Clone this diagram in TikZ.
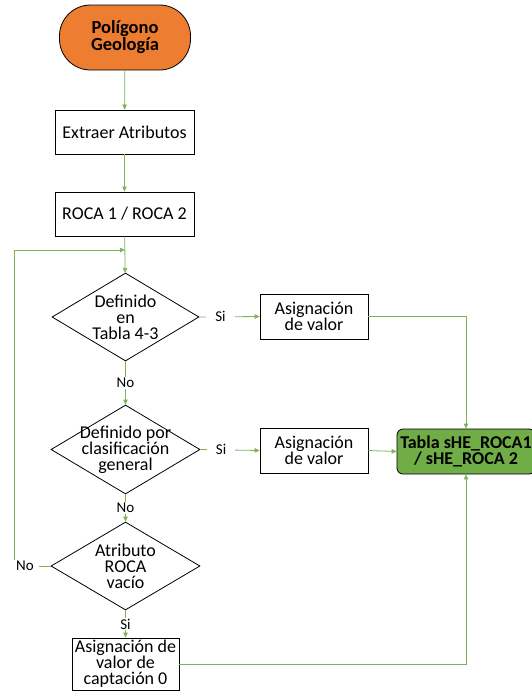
\documentclass[tikz,border=0pt]{standalone}
\usepackage{fontspec}
\setmainfont{Carlito}
\usetikzlibrary{shapes.geometric,arrows.meta}
\definecolor{orng}{HTML}{ED7D31}
\definecolor{grn}{HTML}{70AD47}
\definecolor{conn}{HTML}{7FB35A}
\begin{document}
\begin{tikzpicture}[x=1pt,y=-1pt,
  every node/.style={font=\fontsize{18}{16}\selectfont, align=center},
  box/.style={draw=black, line width=0.8pt, fill=white, inner sep=1pt},
  dec/.style={draw=black, line width=0.8pt, diamond, inner sep=0pt},
  dectext/.style={font=\fontsize{18}{16}\selectfont, align=center},
  con/.style={draw=conn, line width=0.8pt, -{Triangle[length=5pt,width=4.5pt]}},
  lab/.style={fill=white, inner xsep=5pt, inner ysep=1pt, font=\fontsize{15}{16}\selectfont}]
\useasboundingbox (0,0) rectangle (532,691);
\node[draw=black, line width=0.8pt, fill=orng, rounded corners=31pt, minimum width=131pt, minimum height=65pt, font=\bfseries\fontsize{18.5}{16}\selectfont] (start) at (125,37.5) {Polígono\\Geología};
\node[box, minimum width=139pt, minimum height=44pt] (extr) at (124.5,132) {Extraer Atributos};
\node[box, minimum width=139pt, minimum height=44pt] (roca) at (124.5,214) {ROCA 1 / ROCA 2};
\node[dec, minimum width=147pt, minimum height=88pt, label={[dectext]center:{Definido\\en\\Tabla 4-3}}] (d1) at (125.5,317) {};
\node[dec, minimum width=149pt, minimum height=89pt, label={[dectext]center:{Definido por\\clasificación\\general}}] (d2) at (125.5,449.5) {};
\node[dec, minimum width=149pt, minimum height=88pt, label={[dectext]center:{Atributo\\ROCA\\vacío}}] (d3) at (125.5,566) {};
\node[box, minimum width=108pt, minimum height=45pt] (a1) at (314,316.5) {Asignación\\de valor};
\node[box, minimum width=108pt, minimum height=45pt] (a2) at (314,450.5) {Asignación\\de valor};
\node[draw=black, line width=0.8pt, fill=grn, rounded corners=6pt, minimum width=138pt, minimum height=45pt, inner sep=0pt, font=\bfseries\fontsize{18}{16}\selectfont] (tab) at (466,451.5) {Tabla sHE\_ROCA1\\/ sHE\_ROCA 2};
\node[box, minimum width=107pt, minimum height=52pt, inner sep=0pt] (a3) at (125.5,664) {Asignación de\\valor de\\captación 0};
\coordinate (loopL) at (14,566);
\coordinate (join) at (125,250);
\draw[con] (start) -- (extr);
\draw[con] (extr) -- (roca);
\draw[con] (roca) -- (d1);
\draw[con] (d1) -- node[lab]{No} (d2);
\draw[con] (d2) -- node[lab]{No} (d3);
\draw[con] (d3) -- node[lab]{Si} (a3);
\draw[con] (d1.east) -- node[lab, pos=0.35, inner xsep=9pt]{Si} (a1.west);
\draw[con] (d2.east) -- node[lab, pos=0.35, inner xsep=9pt]{Si} (a2.west);
\draw[con] (d3.west) -- node[lab, pos=0.7]{No} (loopL) |- (join);
\draw[con] (a1.east) -| (tab.north);
\draw[con] (a2.east) -- (tab.west);
\draw[con] (a3.east) -| (tab.south);
\end{tikzpicture}
\end{document}
